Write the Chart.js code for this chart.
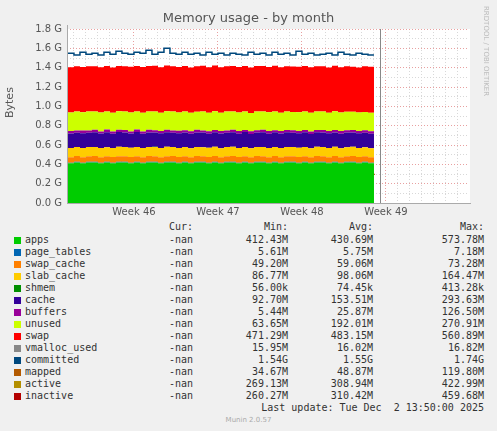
<!DOCTYPE html>
<html>
<head>
<meta charset="utf-8">
<script src="https://cdn.jsdelivr.net/npm/chart.js@4"></script>
<style>
  body { margin: 0; background: #f0f0f0; width: 497px; height: 431px; overflow: hidden; position: relative; font-family: "DejaVu Sans", sans-serif; }
  #wrap { position: absolute; left: 0; top: 0; width: 497px; height: 220px; }
  .t { position: absolute; white-space: pre; color: #444; }
  .mono { font-family: "DejaVu Sans Mono", monospace; font-size: 10px; color: #333; }
  .sw { position: absolute; width: 7px; height: 7px; }
</style>
</head>
<body>
<div id="wrap"><canvas id="memChart" width="497" height="220"></canvas></div>
<div class="t" style="left:0;width:497px;text-align:center;top:10px;font-size:13px;color:#555">Memory usage - by month</div>
<div class="t" style="left:3px;top:118px;font-size:11px;transform:rotate(-90deg);transform-origin:left top;color:#555">Bytes</div>
<div class="t" style="left:490px;top:6px;font-size:7px;color:#bbb;transform:rotate(90deg);transform-origin:left top">RRDTOOL / TOBI OETIKER</div>
<div id="legend"></div>
<script>
// Color Variables
const appsColor = '#00CC00', pageTablesColor = '#0066B3', swapCacheColor = '#FF8000',
  slabColor = '#FFCC00', shmemColor = '#008F00', cacheColor = '#330099',
  buffersColor = '#990099', unusedColor = '#CCFF00', swapColor = '#FF0000',
  vmallocColor = '#888888', committedColor = '#00487D', mappedColor = '#B35A00',
  activeColor = '#B38F00', inactiveColor = '#B30000';

// x positions in days (week 46 tick at day 5)
const days = [];
for (let i = 0; i < 52; i++) days.push(-0.5 + i * 0.5);

// values in G
const apps = [0.41,0.42,0.41,0.42,0.42,0.41,0.42,0.41,0.42,0.42,0.41,0.42,0.41,0.42,0.42,0.41,0.42,0.42,0.41,0.42,0.41,0.42,0.42,0.41,0.42,0.41,0.42,0.42,0.41,0.42,0.41,0.42,0.42,0.41,0.42,0.41,0.42,0.42,0.41,0.42,0.41,0.42,0.42,0.41,0.42,0.41,0.42,0.42,0.41,0.42,0.41,0.41];
const pageTables = [0.0056,0.0055,0.0056,0.0057,0.0056,0.0055,0.0056,0.0057,0.0056,0.0055,0.0056,0.0057,0.0056,0.0055,0.0056,0.0057,0.0056,0.0055,0.0056,0.0057,0.0056,0.0055,0.0056,0.0057,0.0056,0.0055,0.0056,0.0057,0.0056,0.0055,0.0056,0.0057,0.0056,0.0055,0.0056,0.0057,0.0056,0.0055,0.0056,0.0057,0.0056,0.0055,0.0056,0.0057,0.0056,0.0055,0.0056,0.0057,0.0056,0.0055,0.0056,0.0056];
const swapCache = [0.058,0.060,0.057,0.059,0.061,0.058,0.057,0.060,0.059,0.058,0.061,0.057,0.058,0.060,0.059,0.057,0.058,0.061,0.059,0.058,0.057,0.060,0.058,0.059,0.061,0.057,0.058,0.060,0.059,0.058,0.057,0.061,0.058,0.059,0.060,0.057,0.058,0.059,0.061,0.058,0.057,0.060,0.059,0.058,0.061,0.057,0.058,0.060,0.059,0.058,0.057,0.058];
const slabCache = [0.095,0.094,0.096,0.095,0.093,0.096,0.095,0.094,0.097,0.095,0.094,0.096,0.095,0.093,0.096,0.095,0.098,0.094,0.095,0.096,0.094,0.095,0.093,0.096,0.095,0.094,0.096,0.095,0.094,0.096,0.095,0.093,0.096,0.095,0.094,0.096,0.095,0.094,0.096,0.095,0.093,0.096,0.095,0.094,0.096,0.095,0.094,0.096,0.095,0.093,0.095,0.095];
const shmem = new Array(52).fill(0.00007);
const cache = [0.150,0.148,0.153,0.147,0.151,0.149,0.154,0.146,0.152,0.150,0.148,0.155,0.147,0.151,0.149,0.153,0.150,0.147,0.152,0.149,0.151,0.148,0.153,0.146,0.150,0.152,0.148,0.151,0.149,0.154,0.147,0.150,0.152,0.148,0.151,0.149,0.153,0.147,0.150,0.152,0.148,0.151,0.149,0.153,0.147,0.150,0.152,0.148,0.151,0.149,0.150,0.150];
const buffers = [0.025,0.022,0.028,0.024,0.026,0.021,0.029,0.023,0.025,0.027,0.022,0.026,0.024,0.028,0.023,0.025,0.027,0.022,0.026,0.024,0.025,0.028,0.021,0.026,0.024,0.027,0.023,0.025,0.026,0.022,0.028,0.024,0.025,0.027,0.021,0.026,0.024,0.028,0.023,0.025,0.026,0.022,0.027,0.024,0.025,0.028,0.022,0.026,0.024,0.027,0.025,0.025];
const unused = [0.192,0.196,0.188,0.195,0.191,0.197,0.186,0.194,0.190,0.192,0.196,0.187,0.195,0.190,0.193,0.188,0.191,0.197,0.189,0.193,0.192,0.188,0.196,0.191,0.193,0.189,0.195,0.191,0.192,0.190,0.189,0.194,0.190,0.193,0.196,0.191,0.190,0.188,0.194,0.192,0.193,0.191,0.190,0.189,0.194,0.190,0.193,0.189,0.191,0.190,0.192,0.192];
const swap = [0.469,0.468,0.470,0.469,0.468,0.469,0.471,0.470,0.469,0.468,0.473,0.470,0.471,0.469,0.474,0.470,0.472,0.469,0.470,0.471,0.468,0.470,0.472,0.470,0.473,0.471,0.469,0.470,0.472,0.471,0.470,0.469,0.471,0.470,0.472,0.469,0.470,0.471,0.469,0.470,0.471,0.469,0.470,0.468,0.471,0.470,0.469,0.466,0.467,0.471,0.474,0.475];
const vmallocUsed = new Array(52).fill(0.0156);
const committed = [1.55,1.53,1.56,1.54,1.55,1.53,1.56,1.54,1.57,1.55,1.54,1.56,1.55,1.58,1.54,1.56,1.60,1.55,1.54,1.56,1.54,1.55,1.53,1.56,1.54,1.55,1.53,1.55,1.54,1.53,1.56,1.54,1.55,1.53,1.56,1.54,1.55,1.53,1.57,1.54,1.55,1.53,1.54,1.55,1.53,1.56,1.54,1.53,1.55,1.54,1.53,1.53];
const mapped = [0.046,0.049,0.045,0.048,0.050,0.046,0.047,0.049,0.045,0.048,0.046,0.050,0.047,0.045,0.049,0.046,0.048,0.047,0.050,0.045,0.048,0.046,0.049,0.047,0.045,0.048,0.050,0.046,0.047,0.049,0.045,0.048,0.046,0.050,0.047,0.045,0.049,0.046,0.048,0.047,0.050,0.045,0.048,0.046,0.049,0.047,0.045,0.048,0.050,0.046,0.047,0.047];
const active = [0.300,0.296,0.304,0.298,0.302,0.295,0.306,0.299,0.301,0.297,0.305,0.300,0.298,0.303,0.296,0.302,0.299,0.304,0.297,0.301,0.300,0.298,0.303,0.296,0.302,0.299,0.301,0.297,0.304,0.300,0.298,0.302,0.296,0.303,0.299,0.301,0.297,0.305,0.300,0.298,0.302,0.296,0.303,0.299,0.301,0.297,0.302,0.300,0.298,0.301,0.299,0.300];
const inactive = [0.295,0.302,0.290,0.306,0.297,0.288,0.310,0.294,0.318,0.300,0.292,0.308,0.296,0.304,0.289,0.301,0.298,0.312,0.293,0.300,0.305,0.291,0.299,0.303,0.296,0.307,0.290,0.301,0.297,0.304,0.294,0.300,0.306,0.292,0.298,0.303,0.295,0.301,0.326,0.296,0.302,0.290,0.304,0.297,0.300,0.293,0.305,0.298,0.294,0.301,0.296,0.290];

// legend rows: name, color, cur, min, avg, max
const legendNames = ['apps','page_tables','swap_cache','slab_cache','shmem','cache','buffers','unused','swap','vmalloc_used','committed','mapped','active','inactive'];
const legendColors = [appsColor,pageTablesColor,swapCacheColor,slabColor,shmemColor,cacheColor,buffersColor,unusedColor,swapColor,vmallocColor,committedColor,mappedColor,activeColor,inactiveColor];
const legendMin = ['412.43M','5.61M','49.20M','86.77M','56.00k','92.70M','5.44M','63.65M','471.29M','15.95M','1.54G','34.67M','269.13M','260.27M'];
const legendAvg = ['430.69M','5.75M','59.06M','98.06M','74.45k','153.51M','25.87M','192.01M','483.15M','16.02M','1.55G','48.87M','308.94M','310.42M'];
const legendMax = ['573.78M','7.18M','73.28M','164.47M','413.28k','293.63M','126.50M','270.91M','560.89M','16.82M','1.74G','119.80M','422.99M','459.68M'];

// build legend
const legend = document.getElementById('legend');
function addText(txt, left, top, right, cls) {
  const d = document.createElement('div');
  d.className = 't ' + (cls || 'mono');
  d.textContent = txt;
  d.style.top = top + 'px';
  if (right) { d.style.right = (497 - left) + 'px'; } else { d.style.left = left + 'px'; }
  legend.appendChild(d);
}
addText('Cur:', 193, 221, true);
addText('Min:', 288, 221, true);
addText('Avg:', 373, 221, true);
addText('Max:', 484, 221, true);
legendNames.forEach(function (name, i) {
  const y = 234 + i * 12;
  const sw = document.createElement('div');
  sw.className = 'sw';
  sw.style.left = '14px';
  sw.style.top = (y + 3) + 'px';
  sw.style.background = legendColors[i];
  legend.appendChild(sw);
  addText(name, 25, y);
  addText('-nan', 193, y, true);
  addText(legendMin[i], 288, y, true);
  addText(legendAvg[i], 373, y, true);
  addText(legendMax[i], 484, y, true);
});
addText('Last update: Tue Dec  2 13:50:00 2025', 484, 402, true);
const munin = document.createElement('div');
munin.className = 't';
munin.textContent = 'Munin 2.0.57';
munin.style.cssText = 'left:0;width:497px;text-align:center;top:416px;font-size:7px;color:#aaa';
legend.appendChild(munin);

function pts(arr) {
  return arr.map(function (v, i) { return { x: days[i], y: v }; });
}
function area(label, arr, color, first) {
  return { label: label, data: pts(arr), stack: 'mem', backgroundColor: color, borderColor: color,
    borderWidth: 0, fill: first ? 'origin' : '-1', pointRadius: 0, stepped: true };
}
function line(label, arr, color) {
  return { label: label, data: pts(arr), stack: label, borderColor: color, borderWidth: 1.5,
    fill: false, pointRadius: 0, stepped: true };
}

const bgPlugin = {
  id: 'munBg',
  beforeDraw: function (chart) {
    const a = chart.chartArea, c = chart.ctx;
    c.save();
    c.fillStyle = '#ffffff';
    c.fillRect(a.left, a.top, a.right - a.left + 3, a.bottom - a.top);
    c.restore();
  },
  afterDatasetsDraw: function (chart) {
    const a = chart.chartArea, c = chart.ctx, xs = chart.scales.x;
    const xe = xs.getPixelForValue(days[days.length - 1] + 0.5);
    c.save();
    c.strokeStyle = '#888';
    c.lineWidth = 1;
    c.beginPath();
    c.moveTo(Math.round(xe) + 0.5, a.top);
    c.lineTo(Math.round(xe) + 0.5, a.bottom);
    c.stroke();
    c.strokeStyle = '#aaa';
    c.beginPath();
    c.moveTo(a.left, a.bottom + 0.5);
    c.lineTo(a.right + 4, a.bottom + 0.5);
    c.moveTo(a.left + 0.5, a.bottom);
    c.lineTo(a.left + 0.5, a.top - 4);
    c.stroke();
    c.restore();
  }
};

new Chart(document.getElementById('memChart'), {
  type: 'line',
  data: {
    datasets: [
      area('apps', apps, appsColor, true),
      area('page_tables', pageTables, pageTablesColor),
      area('swap_cache', swapCache, swapCacheColor),
      area('slab_cache', slabCache, slabColor),
      area('shmem', shmem, shmemColor),
      area('cache', cache, cacheColor),
      area('buffers', buffers, buffersColor),
      area('unused', unused, unusedColor),
      area('swap', swap, swapColor),
      line('vmalloc_used', vmallocUsed, vmallocColor),
      line('committed', committed, committedColor),
      line('mapped', mapped, mappedColor),
      line('active', active, activeColor),
      line('inactive', inactive, inactiveColor)
    ]
  },
  options: {
    responsive: false,
    animation: false,
    layout: { padding: { left: 0, right: 30, top: 29, bottom: 0 } },
    plugins: { legend: { display: false }, tooltip: { enabled: false } },
    scales: {
      x: {
        type: 'linear',
        min: -0.58,
        max: 32.75,
        afterFit: function (s) { s.height = 17; },
        afterBuildTicks: function (s) {
          const t = [];
          for (let d = 0; d <= 32; d++) t.push({ value: d });
          s.ticks = t;
        },
        grid: {
          color: function (ctx) { return (ctx.tick && (ctx.tick.value - 5) % 7 === 0) ? '#e8a0a0' : '#d8d8d8'; },
          drawTicks: false
        },
        border: { display: false, dash: [1, 2] },
        ticks: {
          autoSkip: false,
          maxRotation: 0,
          padding: 3,
          color: '#555',
          font: { family: 'DejaVu Sans', size: 10 },
          callback: function (v) { return (v - 5) % 7 === 0 && v >= 5 ? 'Week ' + (46 + (v - 5) / 7) : ''; }
        }
      },
      y: {
        stacked: true,
        min: 0,
        max: 1.8,
        afterFit: function (s) { s.width = 67; },
        afterBuildTicks: function (s) {
          const t = [];
          for (let i = 0; i <= 18; i++) t.push({ value: i / 10 });
          s.ticks = t;
        },
        grid: {
          color: function (ctx) { return (ctx.tick && Math.round(ctx.tick.value * 10) % 2 === 0) ? '#e8a0a0' : '#d8d8d8'; },
          drawTicks: false
        },
        border: { display: false, dash: [1, 2] },
        ticks: {
          autoSkip: false,
          padding: 5,
          color: '#555',
          font: { family: 'DejaVu Sans', size: 10 },
          callback: function (v) {
            const n = Math.round(v * 10);
            return n % 2 === 0 ? (n / 10).toFixed(1) + ' G' : '';
          }
        }
      }
    }
  },
  plugins: [bgPlugin]
});
</script>
</body>
</html>
